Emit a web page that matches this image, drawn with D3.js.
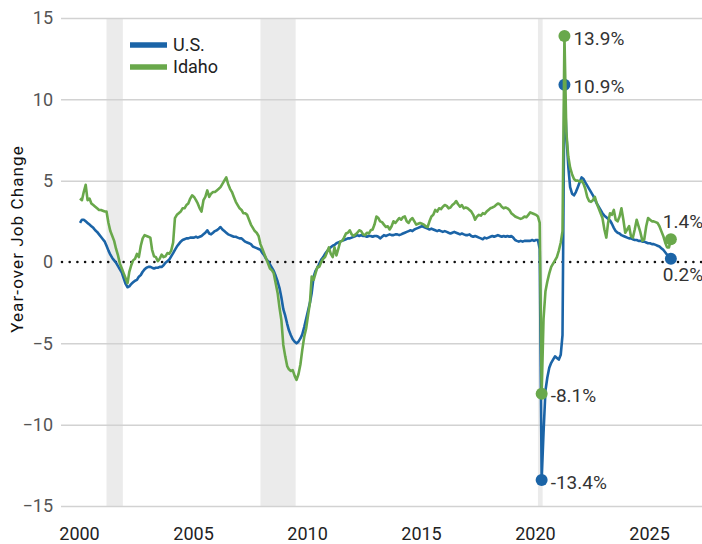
<!DOCTYPE html>
<html>
<head>
<meta charset="utf-8">
<script src="https://cdnjs.cloudflare.com/ajax/libs/d3/7.8.5/d3.min.js"></script>
<style>
  body { margin: 0; background: #fff; }
  #job-vis text { font-family: Roboto, "Liberation Sans", sans-serif; }
</style>
</head>
<body>
<div id="job-vis"></div>
<script>
// monthly year-over-year job change (%), one row per year starting 2000
var startYear = 2000;
var seriesNames = ["U.S.", "Idaho"];
var seriesColors = ["#1b64a7", "#69a84b"];

var usChange = [
  [2.4, 2.6, 2.6, 2.5, 2.4, 2.3, 2.2, 2.1, 1.95, 1.85, 1.7, 1.55],
  [1.4, 1.25, 1.0, 0.7, 0.45, 0.25, 0.1, -0.05, -0.25, -0.45, -0.65, -1.0],
  [-1.35, -1.55, -1.5, -1.35, -1.25, -1.15, -1.1, -0.9, -0.8, -0.6, -0.45, -0.35],
  [-0.3, -0.3, -0.35, -0.4, -0.35, -0.35, -0.3, -0.3, -0.2, -0.05, 0.05, 0.15],
  [0.35, 0.55, 0.75, 0.95, 1.1, 1.25, 1.35, 1.4, 1.45, 1.45, 1.5, 1.5],
  [1.5, 1.55, 1.5, 1.55, 1.6, 1.7, 1.8, 1.95, 1.75, 1.7, 1.8, 1.9],
  [1.95, 2.05, 2.15, 2.0, 1.9, 1.8, 1.7, 1.65, 1.6, 1.55, 1.55, 1.5],
  [1.45, 1.45, 1.35, 1.25, 1.2, 1.15, 1.1, 0.95, 0.9, 0.85, 0.8, 0.75],
  [0.55, 0.4, 0.2, 0.05, -0.15, -0.35, -0.55, -0.85, -1.2, -1.6, -2.2, -2.9],
  [-3.3, -3.8, -4.2, -4.5, -4.75, -4.9, -5.0, -4.9, -4.7, -4.45, -4.0, -3.5],
  [-3.0, -2.5, -1.9, -0.9, -0.55, -0.35, -0.1, 0.15, 0.3, 0.5, 0.65, 0.8],
  [0.9, 1.0, 1.05, 1.15, 1.2, 1.25, 1.3, 1.35, 1.4, 1.45, 1.45, 1.5],
  [1.55, 1.6, 1.65, 1.6, 1.65, 1.6, 1.6, 1.55, 1.6, 1.6, 1.55, 1.6],
  [1.6, 1.55, 1.45, 1.55, 1.65, 1.6, 1.65, 1.7, 1.65, 1.65, 1.7, 1.7],
  [1.65, 1.7, 1.75, 1.8, 1.85, 1.9, 1.95, 1.9, 2.0, 2.05, 2.1, 2.15],
  [2.2, 2.15, 2.1, 2.05, 2.0, 2.05, 2.0, 1.95, 1.9, 1.95, 1.9, 1.85],
  [1.9, 1.85, 1.8, 1.75, 1.8, 1.85, 1.8, 1.75, 1.7, 1.75, 1.7, 1.65],
  [1.65, 1.7, 1.6, 1.55, 1.6, 1.55, 1.5, 1.45, 1.4, 1.5, 1.45, 1.5],
  [1.55, 1.6, 1.55, 1.6, 1.65, 1.6, 1.55, 1.6, 1.55, 1.6, 1.55, 1.6],
  [1.5, 1.35, 1.3, 1.25, 1.3, 1.25, 1.3, 1.3, 1.3, 1.3, 1.35, 1.3],
  [1.35, 1.35, 0.8, -13.4, -10.5, -7.9, -7.1, -6.5, -6.2, -6.0, -5.8, -5.9],
  [-6.0, -5.7, -4.5, 10.9, 7.9, 5.9, 4.6, 4.2, 4.1, 4.3, 4.6, 4.9],
  [5.2, 5.1, 4.9, 4.7, 4.5, 4.3, 4.1, 3.85, 3.6, 3.4, 3.2, 3.0],
  [2.85, 2.75, 2.65, 2.55, 2.35, 2.1, 1.9, 1.8, 1.75, 1.65, 1.6, 1.55],
  [1.5, 1.45, 1.45, 1.4, 1.35, 1.35, 1.3, 1.3, 1.25, 1.25, 1.2, 1.15],
  [1.15, 1.1, 1.1, 1.05, 1.0, 0.95, 0.85, 0.75, 0.6, 0.45, 0.35, 0.2]
];

var idahoChange = [
  [3.9, 3.8, 4.3, 4.75, 3.8, 3.9, 3.6, 3.5, 3.4, 3.3, 3.2, 3.2],
  [3.15, 3.1, 3.1, 2.4, 1.9, 1.6, 1.3, 0.8, 0.4, -0.1, -0.4, -0.7],
  [-1.0, -1.3, -0.6, -0.2, 0.1, 0.2, 0.5, 0.3, 1.0, 1.45, 1.65, 1.6],
  [1.55, 1.5, 0.75, 0.35, 0.3, 0.05, 0.2, 0.45, 0.3, 0.35, 0.55, 0.5],
  [0.7, 1.2, 2.7, 2.9, 3.0, 3.1, 3.3, 3.3, 3.5, 3.6, 3.9, 4.1],
  [4.0, 3.8, 3.6, 3.3, 3.1, 3.8, 4.0, 4.4, 4.0, 4.2, 4.3, 4.3],
  [4.4, 4.5, 4.6, 4.8, 5.0, 5.2, 4.8, 4.5, 4.3, 4.0, 3.7, 3.5],
  [3.3, 3.2, 3.0, 3.0, 2.9, 2.6, 2.3, 2.1, 1.9, 1.8, 1.6, 1.1],
  [0.8, 0.5, 0.2, -0.1, -0.4, -0.5, -0.7, -1.3, -1.9, -2.8, -3.6, -5.1],
  [-5.8, -6.4, -6.6, -6.7, -6.65, -7.0, -7.25, -6.9, -6.3, -5.4, -4.6, -4.1],
  [-3.3, -2.5, -0.9, -1.1, -0.7, -0.3, -0.3, 0.0, 0.2, 0.3, 0.6, 0.9],
  [0.5, 0.3, 0.9, 0.4, 0.8, 1.25, 1.3, 1.5, 1.75, 1.8, 1.95, 1.7],
  [1.6, 1.7, 1.8, 1.95, 1.9, 1.7, 1.65, 1.8, 1.75, 1.95, 2.0, 2.3],
  [2.8, 2.7, 2.5, 2.45, 2.3, 2.15, 2.2, 2.0, 2.2, 2.5, 2.4, 2.55],
  [2.7, 2.6, 2.75, 2.8, 2.5, 2.4, 2.6, 2.7, 2.5, 2.3, 2.35, 2.4],
  [2.35, 2.3, 2.2, 2.15, 2.5, 2.8, 2.9, 3.2, 3.1, 3.3, 3.25, 3.4],
  [3.5, 3.45, 3.3, 3.35, 3.5, 3.6, 3.75, 3.55, 3.4, 3.5, 3.3, 3.35],
  [3.3, 3.2, 3.1, 2.9, 2.6, 2.8, 2.9, 2.85, 3.0, 2.95, 3.1, 3.2],
  [3.3, 3.35, 3.4, 3.5, 3.6, 3.55, 3.4, 3.3, 3.35, 3.3, 3.2, 3.0],
  [2.9, 2.8, 2.75, 2.7, 2.65, 2.7, 2.8, 2.75, 2.9, 3.05, 3.0, 2.95],
  [2.9, 2.8, 2.4, -8.1, -3.5, -1.8, -1.2, -0.7, -0.3, -0.1, 0.1, 0.3],
  [0.7, 1.2, 1.9, 13.9, 8.0, 6.5, 5.8, 5.4, 5.1, 5.0, 5.0, 4.95],
  [5.0, 4.8, 4.5, 4.0, 3.75, 3.7, 3.8, 4.0, 3.6, 3.3, 3.0, 2.7],
  [2.0, 1.5, 2.4, 3.0, 2.9, 3.2, 2.6, 2.5, 2.8, 3.3, 2.6, 1.8],
  [2.0, 2.2, 1.6, 1.5, 2.0, 2.6, 2.2, 1.8, 1.3, 1.4, 2.2, 2.7],
  [2.6, 2.5, 2.5, 2.45, 2.4, 2.2, 1.9, 1.6, 1.2, 0.9, 0.9, 1.4]
];

var yTicks = [-15, -10, -5, 0, 5, 10, 15];
var xTickYears = [2000, 2005, 2010, 2015, 2020, 2025];

// recessions, [first month, last month]
var recessions = [
  [[2001, 3], [2001, 11]],
  [[2007, 12], [2009, 6]],
  [[2020, 2], [2020, 4]]
];

// labelled points: series index, year, month, label
var callouts = [
  [0, 2020, 4, "-13.4%"],
  [1, 2020, 4, "-8.1%"],
  [0, 2021, 4, "10.9%"],
  [1, 2021, 4, "13.9%"],
  [0, 2025, 12, "0.2%"],
  [1, 2025, 12, "1.4%"]
];

JobChangeVis = function(_parentElement, _series) {
  this.parentElement = _parentElement;
  this.series = _series;
  this.wrangleData();
  this.initVis();
  this.updateVis();
};

JobChangeVis.prototype.wrangleData = function() {
  var vis = this;
  vis.lines = vis.series.map((rows) => {
    var pts = [];
    rows.forEach((row, yi) => {
      row.forEach((v, mi) => {
        pts.push({ date: new Date(startYear + yi, mi, 1), value: v });
      });
    });
    return pts;
  });
};

JobChangeVis.prototype.initVis = function() {
  var vis = this;

  vis.width = 702;
  vis.height = 544;
  vis.margin = { top: 18, bottom: 38, left: 61, right: 0 };

  vis.svg = d3.select("#" + vis.parentElement).append("svg")
    .attr("width", vis.width)
    .attr("height", vis.height);

  vis.xScale = d3.scaleTime()
    .domain([new Date(2000, 0, 1), new Date(2026, 0, 1)])
    .range([80, 672.8]);

  vis.yScale = d3.scaleLinear()
    .domain([-15, 15])
    .range([vis.height - vis.margin.bottom, vis.margin.top]);

  // recession shading
  vis.svg.selectAll(".recession")
    .data(recessions)
    .enter()
    .append("rect")
    .attr("class", "recession")
    .attr("x", (d) => vis.xScale(new Date(d[0][0], d[0][1] - 1, 1)))
    .attr("width", (d) => vis.xScale(new Date(d[1][0], d[1][1] - 1, 1)) - vis.xScale(new Date(d[0][0], d[0][1] - 1, 1)) + 1)
    .attr("y", vis.yScale(15))
    .attr("height", vis.yScale(-15) - vis.yScale(15))
    .attr("fill", "#ebebeb");

  vis.yAxis = d3.axisLeft()
    .scale(vis.yScale)
    .tickValues(yTicks)
    .tickSize(-(vis.width - vis.margin.left))
    .tickPadding(8);

  vis.svg.append("g")
    .attr("class", "y-axis axis")
    .attr("transform", "translate(" + vis.margin.left + ",0)")
    .call(vis.yAxis)
    .call((g) => g.select(".domain").remove())
    .call((g) => g.selectAll("line")
      .attr("stroke", "#d2d2d2")
      .attr("stroke-width", 1.5)
      .attr("opacity", (d) => d === 0 ? 0 : 1))
    .call((g) => g.selectAll("text")
      .attr("font-size", 18)
      .attr("fill", "#555"));

  // dotted zero line
  vis.svg.append("line")
    .attr("x1", vis.margin.left + 1)
    .attr("x2", vis.width)
    .attr("y1", vis.yScale(0))
    .attr("y2", vis.yScale(0))
    .attr("stroke", "#111")
    .attr("stroke-width", 2.6)
    .attr("stroke-linecap", "round")
    .attr("stroke-dasharray", "0,7.7");

  vis.xAxis = d3.axisBottom()
    .scale(vis.xScale)
    .tickValues(xTickYears.map((y) => new Date(y, 0, 1)))
    .tickFormat(d3.timeFormat("%Y"))
    .tickSize(0)
    .tickPadding(21);

  vis.svg.append("g")
    .attr("class", "x-axis axis")
    .attr("transform", "translate(-1," + vis.yScale(-15) + ")")
    .call(vis.xAxis)
    .call((g) => g.select(".domain").remove())
    .call((g) => g.selectAll("text")
      .attr("font-size", 18)
      .attr("fill", "#222"));

  vis.svg.append("text")
    .text("Year-over Job Change")
    .attr("transform", "rotate(-90)")
    .attr("x", -239)
    .attr("y", 23)
    .attr("text-anchor", "middle")
    .attr("font-size", 17)
    .attr("letter-spacing", 1.1)
    .attr("fill", "#111");

  // legend
  var legend = vis.svg.selectAll(".legend")
    .data(seriesNames)
    .enter()
    .append("g")
    .attr("class", "legend")
    .attr("transform", (d, i) => "translate(130," + (45 + 22 * i) + ")");

  legend.append("line")
    .attr("x1", 0)
    .attr("x2", 37)
    .attr("stroke", (d, i) => seriesColors[i])
    .attr("stroke-width", 5.5);

  legend.append("text")
    .text((d) => d)
    .attr("x", 43)
    .attr("dy", "0.35em")
    .attr("font-size", 18)
    .attr("fill", "#222");
};

JobChangeVis.prototype.updateVis = function() {
  var vis = this;

  var line = d3.line()
    .x((d) => vis.xScale(d.date))
    .y((d) => vis.yScale(d.value));

  vis.lines.forEach((pts, i) => {
    vis.svg.append("path")
      .datum(pts)
      .attr("fill", "none")
      .attr("stroke", seriesColors[i])
      .attr("stroke-width", 2.6)
      .attr("stroke-linejoin", "round")
      .attr("d", line);

    var marks = callouts.filter((c) => c[0] === i).map((c) => {
      return { date: new Date(c[1], c[2] - 1, 1), value: vis.lines[i].find((p) => p.date.getFullYear() === c[1] && p.date.getMonth() === c[2] - 1).value, label: c[3] };
    });

    vis.svg.selectAll(".dot-" + i)
      .data(marks)
      .enter()
      .append("circle")
      .attr("class", "dot-" + i)
      .attr("cx", (d) => vis.xScale(d.date))
      .attr("cy", (d) => vis.yScale(d.value))
      .attr("r", 6)
      .attr("fill", seriesColors[i]);

    vis.svg.selectAll(".callout-" + i)
      .data(marks)
      .enter()
      .append("text")
      .attr("class", "callout-" + i)
      .text((d) => d.label)
      .attr("x", (d) => d.date.getFullYear() === 2025 ? vis.xScale(d.date) - 8 : vis.xScale(d.date) + 9)
      .attr("y", (d) => {
        if (d.date.getFullYear() !== 2025) return vis.yScale(d.value) + 2;
        return i === 0 ? vis.yScale(d.value) + 16 : vis.yScale(d.value) - 18;
      })
      .attr("dy", "0.35em")
      .attr("font-size", 19)
      .attr("fill", "#333");
  });
};

var jobVis = new JobChangeVis("job-vis", [usChange, idahoChange]);
</script>
</body>
</html>
